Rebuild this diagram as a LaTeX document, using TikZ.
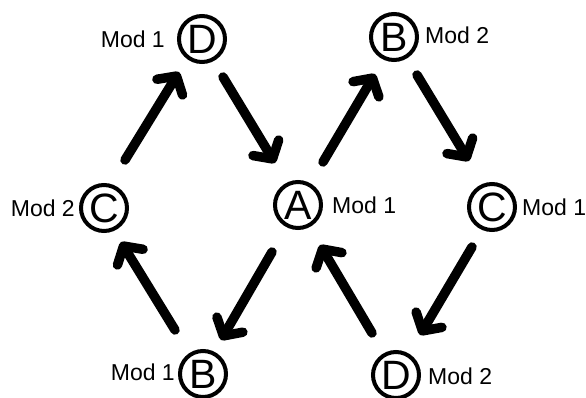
\documentclass[tikz,border=0pt]{standalone}
\usepackage{fontspec}
\setmainfont{Liberation Sans}
\usetikzlibrary{arrows.meta,calc}
\begin{document}
\begin{tikzpicture}[x=1pt,y=-1pt,
  state/.style={circle, draw, line width=4pt, minimum size=46pt, inner sep=0pt,
    font=\fontsize{41}{41}\selectfont},
  modlabel/.style={inner sep=0pt, font=\fontsize{23}{23}\selectfont},
  flow/.style={line width=9.5pt, line cap=round,
    -{Straight Barb[length=13pt,width=30pt,line cap=round,line join=round]}}]
\useasboundingbox (0,0) rectangle (586,398);

% states
\node[state] (D1) at (202,39)  {D};
\node[state] (B1) at (394,37)  {B};
\node[state] (C1) at (104,208) {C};
\node[state] (A)  at (298,205) {A};
\node[state] (C2) at (492,207) {C};
\node[state] (B2) at (203,374) {B};
\node[state] (D2) at (396,375) {D};

% module labels
\node[modlabel, anchor=east] (lD1) at ($(D1)+(-37,0)$) {Mod 1};
\node[modlabel, anchor=west] (lB1) at ($(B1)+(31,-2)$) {Mod 2};
\node[modlabel, anchor=east] (lC1) at ($(C1)+(-29,0)$) {Mod 2};
\node[modlabel, anchor=west] (lA)  at ($(A)+(34,0)$)   {Mod 1};
\node[modlabel, anchor=west] (lC2) at ($(C2)+(30,0)$)  {Mod 1};
\node[modlabel, anchor=east] (lB2) at ($(B2)+(-28,-2)$) {Mod 1};
\node[modlabel, anchor=west] (lD2) at ($(D2)+(32,1)$)  {Mod 2};

% transitions
\draw[flow] ($(C1)+(21,-48)$) -- ($(D1)+(-23,33)$);
\draw[flow] ($(D1)+(21,38)$)  -- ($(A)+(-23,-42)$);
\draw[flow] ($(A)+(25,-43)$)  -- ($(B1)+(-19,37)$);
\draw[flow] ($(B1)+(23,38)$)  -- ($(C2)+(-23,-46)$);
\draw[flow] ($(A)+(-26,47)$)  -- ($(B2)+(18,-34)$);
\draw[flow] ($(B2)+(-28,-44)$) -- ($(C1)+(17,34)$);
\draw[flow] ($(D2)+(-24,-42)$) -- ($(A)+(22,40)$);
\draw[flow] ($(C2)+(-20,40)$) -- ($(D2)+(24,-40)$);
\end{tikzpicture}
\end{document}
